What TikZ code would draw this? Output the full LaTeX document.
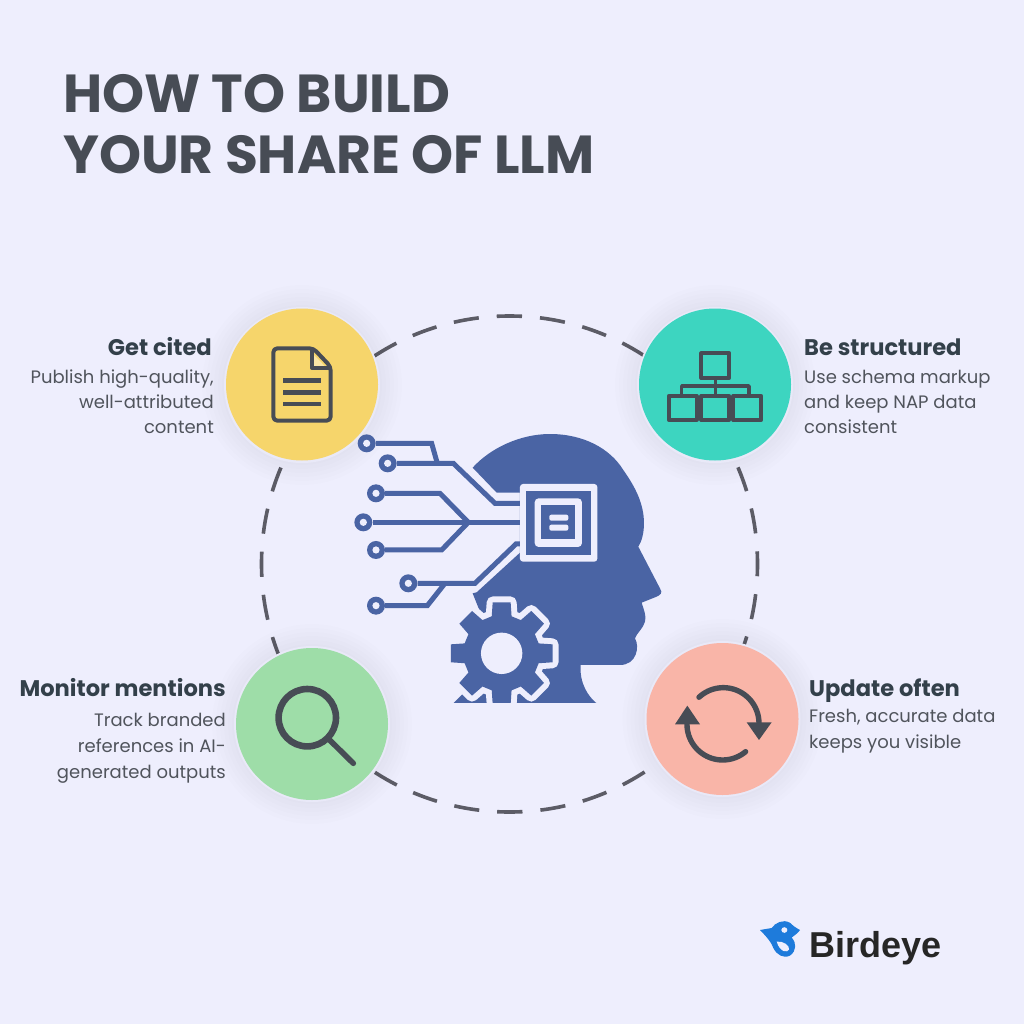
\documentclass[tikz,border=0pt]{standalone}
\usepackage{fontspec}
\setmainfont{Poppins}
\newfontfamily\brandfont{Liberation Sans}
\definecolor{bg}{HTML}{EEEEFD}
\definecolor{halo}{HTML}{E9E9F8}
\definecolor{ink}{HTML}{474C55}
\definecolor{head}{HTML}{33404A}
\definecolor{body}{HTML}{50545C}
\definecolor{blue}{HTML}{4A64A4}
\definecolor{ringc}{HTML}{5C5C66}
\definecolor{cyellow}{HTML}{F6D56B}
\definecolor{cteal}{HTML}{3DD5C0}
\definecolor{cpeach}{HTML}{F9B5A8}
\definecolor{cgreen}{HTML}{9EDDA8}
\definecolor{bird}{HTML}{1E7BDB}
\tikzset{
  titletext/.style={anchor=base west,inner sep=0pt,text=ink,font=\fontsize{53.5}{53.5}\selectfont\bfseries},
  headL/.style={anchor=base east,inner sep=0pt,text=head,font=\fontsize{22.6}{22.6}\selectfont\bfseries},
  headR/.style={anchor=base west,inner sep=0pt,text=head,font=\fontsize{22.6}{22.6}\selectfont\bfseries},
  bodyL/.style={anchor=base east,inner sep=0pt,text=body,font=\fontsize{18}{18}\selectfont},
  bodyR/.style={anchor=base west,inner sep=0pt,text=body,font=\fontsize{18}{18}\selectfont},
  badge/.style={circle,minimum size=152pt,inner sep=0pt,fill=#1},
  icon/.style={draw=ink,line join=round},
  trace/.style={draw=blue,line width=5pt,line join=miter},
  pad/.style={circle,fill=blue,minimum size=18pt,inner sep=0pt,path picture={\fill[bg] (path picture bounding box.center) circle (3.6pt);}},
}
\newcommand{\softshadow}[1]{%
  \foreach \r in {100,96,92,88,84,80}{\fill[black!60!blue,opacity=.008] #1 circle (\r pt);}%
  \fill[halo] #1 circle (78pt);%
}
\newcommand{\gearoutline}{(-15:115) \foreach \a in {0,45,...,315}{ -- (\a-15:115) -- (\a-10:155) -- (\a+10:155) -- (\a+15:115)} -- cycle}
\begin{document}
\begin{tikzpicture}[x=1pt,y=-1pt]
\useasboundingbox (0,0) rectangle (1024,1024);
\fill[bg] (0,0) rectangle (1024,1024);

% ring
\coordinate (ringc0) at (509.5,564);
\draw[ringc,line width=3.6pt,dash pattern=on 25.3pt off 18pt,dash phase=12.6pt] (ringc0) ++(248,0) arc[start angle=0,end angle=360,radius=248pt];

% shadows
\softshadow{(302,385)}
\softshadow{(715,385)}
\softshadow{(312,724)}
\softshadow{(722.5,719)}

% badges
\node[badge=cyellow] (yellow) at (302,384.5) {};
\node[badge=cteal] (teal) at (715,384.5) {};
\node[badge=cgreen] (green) at (312,724) {};
\node[badge=cpeach] (peach) at (722.5,719) {};

% title
\node[titletext] (t1) at (63,113) {HOW TO BUILD};
\node[titletext] (t2) at (63,174) {YOUR SHARE OF LLM};

% labels
\node[headL] (h1) at (212,355) {Get cited};
\node[bodyL] (b1a) at (214,383) {Publish high-quality,};
\node[bodyL] (b1b) at (214,408.5) {well-attributed};
\node[bodyL] (b1c) at (214,433.5) {content};
\node[headR] (h2) at (804,355) {Be structured};
\node[bodyR] (b2a) at (804,383) {Use schema markup};
\node[bodyR] (b2b) at (804,408.5) {and keep NAP data};
\node[bodyR] (b2c) at (804,433.5) {consistent};
\node[headL] (h3) at (226,696) {Monitor mentions};
\node[bodyL] (b3a) at (226,726) {Track branded};
\node[bodyL] (b3b) at (226,752) {references in AI-};
\node[bodyL] (b3c) at (226,778) {generated outputs};
\node[headR] (h4) at (809,696) {Update often};
\node[bodyR] (b4a) at (809,722) {Fresh, accurate data};
\node[bodyR] (b4b) at (809,748) {keeps you visible};

% document icon
\begin{scope}[shift={(220pt,-300pt)},x=.3333pt,y=-.3333pt]
\draw[icon,line width=4pt,rounded corners=4pt] (160,145) -- (280,145) -- (332,200) -- (332,362) -- (160,362) -- cycle;
\fill[cyellow!60!white] (282,165) -- (282,198) -- (314,198) -- cycle;
\draw[icon,line width=4pt] (276,148) -- (276,204) -- (330,204);
\draw[icon,line width=4.6pt] (190,242) -- (302,242) (190,277) -- (302,277) (190,312) -- (302,312);
\end{scope}

% hierarchy icon
\begin{scope}[shift={(630pt,-300pt)},x=.3333pt,y=-.3333pt]
\draw[icon,line width=3.8pt] (214,160) rectangle (298,234);
\draw[icon,line width=3.8pt] (116,288) rectangle (200,360);
\draw[icon,line width=3.8pt] (214,288) rectangle (298,360);
\draw[icon,line width=3.8pt] (310,288) rectangle (394,360);
\draw[icon,line width=3.4pt] (256,234) -- (256,288);
\draw[icon,line width=3.4pt] (155,288) -- (155,258) -- (357,258) -- (357,288);
\end{scope}

% refresh icon
\begin{scope}[shift={(640pt,-635pt)},x=.3333pt,y=-.3333pt]
\draw[icon,line width=5.4pt,line cap=round] plot[domain=227:360,samples=40] ({250+107*cos(\x)},{265+107*sin(\x)});
\draw[icon,line width=5.4pt,line cap=round] plot[domain=180:50,samples=40] ({248+107*cos(\x)},{268+107*sin(\x)});
\fill[ink] (320,262) -- (395,262) -- (357,315) -- cycle;
\fill[ink] (105,268) -- (180,268) -- (142,212) -- cycle;
\end{scope}

% magnifier icon
\node[circle,draw=ink,line width=6.6pt,minimum size=57.4pt,inner sep=0pt,outer sep=0pt] (lens) at (307.3,717.7) {};
\coordinate (handleend) at (353.3,763.3);
\draw[icon,line width=5.6pt,line cap=round] (lens.-45) -- (handleend);

% head
\begin{scope}[shift={(340pt,-420pt)},x=.3333pt,y=-.3333pt]
\fill[blue] (398,143) .. controls (450,85) and (540,42) .. (630,42)
  .. controls (730,42) and (810,85) .. (850,150)
  .. controls (885,200) and (912,250) .. (912,310)
  .. controls (912,340) and (905,365) .. (895,380)
  -- (960,505) .. controls (970,520) and (960,525) .. (950,530)
  -- (905,548) .. controls (912,570) and (920,590) .. (915,605)
  .. controls (910,625) and (890,640) .. (885,655)
  .. controls (900,680) and (890,735) .. (840,735)
  -- (722,735) .. controls (718,790) and (745,830) .. (770,850)
  -- (340,850) -- (420,770) -- (420,575) -- (398,520) -- (410,517)
  -- (540,398) -- (540,218) -- (470,218) -- cycle;
% gear
\begin{scope}[shift={(485,700)}]
\coordinate (gearc) at (0,0);
\draw[bg,line width=12pt,line join=round] \gearoutline;
\fill[blue] \gearoutline;
\fill[bg] (gearc) circle (20.7pt);
\end{scope}
\fill[bg] (320,850.5) rectangle (800,880);
% chip
\fill[bg,rounded corners=3pt] (540,192) rectangle (772,425);
\fill[blue] (558,212) rectangle (752,405);
\fill[bg,rounded corners=4pt] (584,235) rectangle (726,381);
\fill[blue] (604,256) rectangle (706,358);
\fill[bg,rounded corners=2pt] (628,284) rectangle (685,302);
\fill[bg,rounded corners=2pt] (628,314) rectangle (685,332);
% pads and traces
\node[pad] (p1) at (80,70) {};
\node[pad] (p2) at (143,130) {};
\node[pad] (p3) at (108,220) {};
\node[pad] (p4) at (70,307) {};
\node[pad] (p5) at (108,390) {};
\node[pad] (p6) at (205,490) {};
\node[pad] (p7) at (108,557) {};
\coordinate (j1) at (292,130);
\coordinate (j2) at (385,307);
\coordinate (j3) at (315,490);
\coordinate (e1) at (540,250);
\coordinate (e2) at (540,307);
\coordinate (e3) at (540,372);
\draw[trace] (p1) -- (275,70) -- (j1);
\draw[trace] (p2) -- (340,130) -- (465,250) -- (e1);
\draw[trace] (p3) -- (300,220) -- (j2);
\draw[trace] (p4) -- (e2);
\draw[trace] (p5) -- (305,390) -- (j2);
\draw[trace] (p6) -- (405,490) -- (528,372) -- (e3);
\draw[trace] (p7) -- (262,557) -- (j3);
\end{scope}

% logo
\begin{scope}[shift={(755pt,-916.8pt)},x=.3333pt,y=-.4pt]
\fill[bird] (15,33) -- (50,28) .. controls (60,15) and (85,5) .. (105,15)
  .. controls (112,20) and (115,24) .. (135,33) .. controls (128,42) and (118,46) .. (110,52)
  .. controls (125,65) and (125,85) .. (105,97) .. controls (85,105) and (65,95) .. (55,78)
  .. controls (50,65) and (35,50) .. cycle;
\fill[bg] (88,33) ellipse [x radius=9,y radius=7];
\fill[bg] (65,62) .. controls (85,60) and (105,72) .. (102,82) .. controls (98,90) and (75,90) .. cycle;
\end{scope}
\node[anchor=base west,inner sep=0pt,text=black!85,font=\brandfont\fontsize{36}{36}\selectfont\bfseries] (brand) at (809,957) {Birdeye};
\end{tikzpicture}
\end{document}
